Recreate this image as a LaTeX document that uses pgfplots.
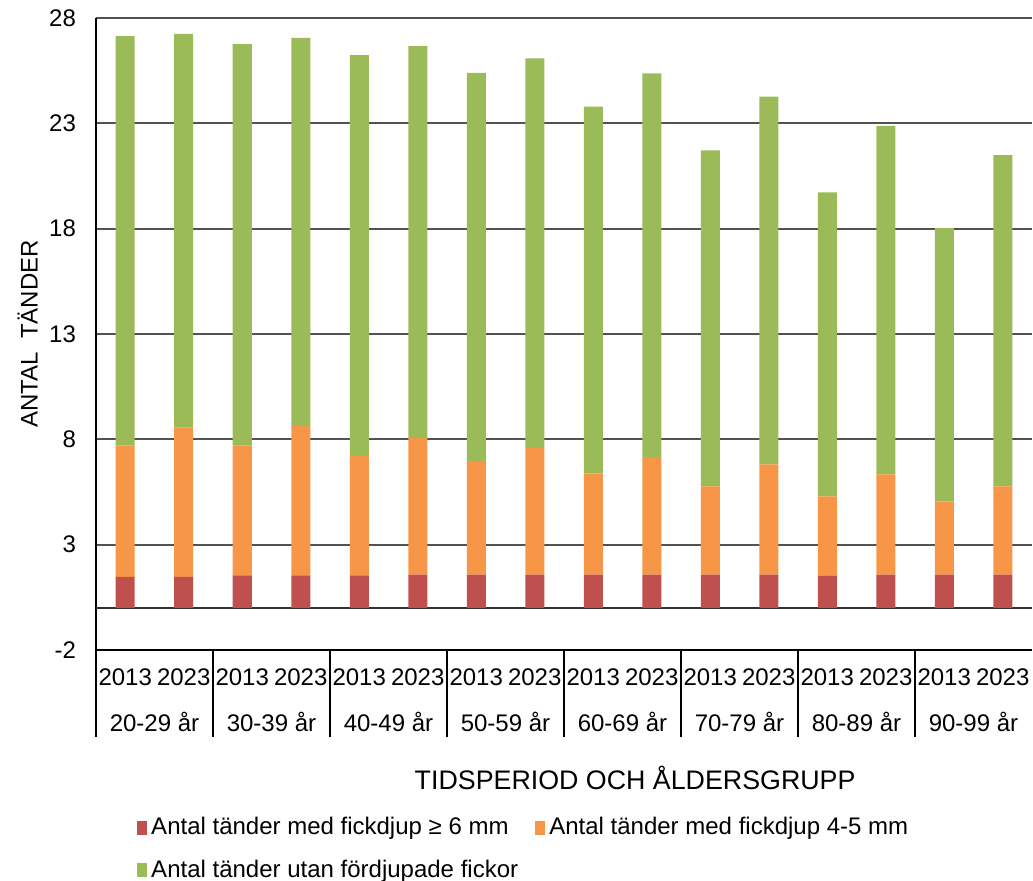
\documentclass[border=0pt]{standalone}
\usepackage{pgfplots}
\pgfplotsset{compat=1.18}
\usepackage{fontspec}
\setmainfont{Liberation Sans}
\definecolor{cred}{HTML}{C0504D}
\definecolor{corange}{HTML}{F79646}
\definecolor{cgreen}{HTML}{9BBB59}
\begin{document}
\begin{tikzpicture}
\begin{axis}[
  name=ax,
  width=468pt, height=316pt, scale only axis,
  xmin=-0.5, xmax=15.5, ymin=-2, ymax=28,
  ybar stacked, bar width=9.5pt,
  clip=false,
  font=\fontsize{12pt}{14pt}\selectfont,
  /pgf/number format/assume math mode=true,
  ytick={-2,3,8,13,18,23,28},
  extra y ticks={0}, extra y tick labels={},
  extra y tick style={grid=major, major grid style={draw=black!80, line width=0.8pt}},
  ymajorgrids,
  major grid style={draw=black!68, line width=0.9pt},
  major tick length=0pt,
  yticklabel style={xshift=-6.5pt},
  xtick={0,...,15},
  xticklabels={2013,2023,2013,2023,2013,2023,2013,2023,2013,2023,2013,2023,2013,2023,2013,2023},
  xticklabel style={anchor=center, yshift=-13.5pt},
  axis x line*=bottom, axis y line*=left,
  axis line style={-, draw=black, line width=0.6pt},
  ylabel={ANTAL\ \ TÄNDER},
  ylabel style={at={(axis description cs:-0.073,0.5)}, anchor=center, rotate=0},
  xlabel={TIDSPERIOD OCH ÅLDERSGRUPP},
  xlabel style={at={(axis description cs:0.576,-0.2025)}, anchor=center, font=\fontsize{13.4pt}{15pt}\selectfont},
  legend columns=2,
  legend cell align=left,
  legend style={at={(axis description cs:0.043,-0.257)}, anchor=north west,
    draw=none, fill=none, inner sep=0pt, row sep=6.5pt,
    font=\fontsize{12pt}{14pt}\selectfont,
    nodes={inner sep=2.3pt},
    /tikz/every even column/.append style={column sep=6pt}},
]
\addplot[fill=cred, draw=none, legend image code/.code={\fill[cred] (0pt,-3.5pt) rectangle (5pt,3.5pt);}] coordinates {
(0,1.47) (1,1.47) (2,1.54) (3,1.54) (4,1.54) (5,1.58) (6,1.58) (7,1.58)
(8,1.58) (9,1.58) (10,1.58) (11,1.58) (12,1.52) (13,1.58) (14,1.58) (15,1.58)};
\addplot[fill=corange, draw=none, legend image code/.code={\fill[corange] (0pt,-3.5pt) rectangle (5pt,3.5pt);}] coordinates {
(0,6.24) (1,7.08) (2,6.17) (3,7.09) (4,5.68) (5,6.48) (6,5.40) (7,6.00)
(8,4.80) (9,5.58) (10,4.19) (11,5.23) (12,3.77) (13,4.76) (14,3.46) (15,4.19)};
\addplot[fill=cgreen, draw=none, legend image code/.code={\fill[cgreen] (0pt,-3.5pt) rectangle (5pt,3.5pt);}] coordinates {
(0,19.43) (1,18.70) (2,19.05) (3,18.43) (4,19.02) (5,18.61) (6,18.41) (7,18.50)
(8,17.41) (9,18.21) (10,15.95) (11,17.46) (12,14.43) (13,16.54) (14,12.99) (15,15.72)};
\legend{Antal tänder med fickdjup ≥ 6 mm, Antal tänder med fickdjup 4-5 mm, Antal tänder utan fördjupade fickor}
% category table
\draw[black, line width=0.6pt] (axis cs:-0.5,-2) -- (axis cs:-0.5,-6.12);
\draw[black, line width=0.6pt] (axis cs:1.5,-2) -- (axis cs:1.5,-6.12);
\draw[black, line width=0.6pt] (axis cs:3.5,-2) -- (axis cs:3.5,-6.12);
\draw[black, line width=0.6pt] (axis cs:5.5,-2) -- (axis cs:5.5,-6.12);
\draw[black, line width=0.6pt] (axis cs:7.5,-2) -- (axis cs:7.5,-6.12);
\draw[black, line width=0.6pt] (axis cs:9.5,-2) -- (axis cs:9.5,-6.12);
\draw[black, line width=0.6pt] (axis cs:11.5,-2) -- (axis cs:11.5,-6.12);
\draw[black, line width=0.6pt] (axis cs:13.5,-2) -- (axis cs:13.5,-6.12);
\node[anchor=center] at (axis cs:0.5,-5.41) {20-29 år};
\node[anchor=center] at (axis cs:2.5,-5.41) {30-39 år};
\node[anchor=center] at (axis cs:4.5,-5.41) {40-49 år};
\node[anchor=center] at (axis cs:6.5,-5.41) {50-59 år};
\node[anchor=center] at (axis cs:8.5,-5.41) {60-69 år};
\node[anchor=center] at (axis cs:10.5,-5.41) {70-79 år};
\node[anchor=center] at (axis cs:12.5,-5.41) {80-89 år};
\node[anchor=center] at (axis cs:14.5,-5.41) {90-99 år};
\end{axis}
\pgfresetboundingbox
\path ([shift={(-48pt,-115.5pt)}]ax.south west) rectangle ([shift={(0.5pt,9pt)}]ax.north east);
\end{tikzpicture}
\end{document}
